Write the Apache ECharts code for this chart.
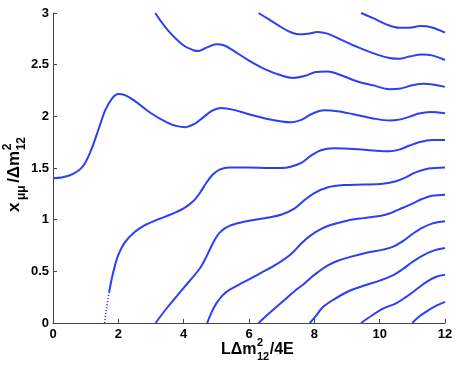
<!DOCTYPE html>
<html>
<head>
	<meta charset="utf-8">
	<script src="https://cdn.jsdelivr.net/npm/echarts@6/dist/echarts.min.js"></script>
	<style>
		html, body { margin: 0; padding: 0; background: #fff; }
		#chart { width: 457px; height: 365px; }
	</style>
</head>
<body>
<div id="chart"></div>
<script>
	// tick values
	var xTicks = [0, 2, 4, 6, 8, 10, 12];
	var yTicks = [0, 0.5, 1, 1.5, 2, 2.5, 3];

	// branch starting at (0, 1.4)
	var branchA = [[0,1.40],[0.3,1.41],[0.6,1.44],[0.9,1.51],[1.15,1.66],[1.4,1.88],[1.6,2.06],[1.8,2.17],[2.0,2.215],[2.2,2.205],[2.5,2.15],[3.0,2.03],[3.5,1.94],[3.8,1.905],[4.05,1.895],[4.35,1.93],[4.6,1.99],[4.85,2.05],[5.15,2.08],[5.5,2.065],[6.0,2.02],[6.5,1.98],[7.0,1.95],[7.3,1.942],[7.6,1.965],[7.9,2.02],[8.3,2.058],[8.7,2.05],[9.2,2.02],[9.8,1.98],[10.3,1.96],[10.6,1.968],[10.9,1.995],[11.2,2.027],[11.55,2.043],[12,2.03]];
	// branches coming down from the top
	var branchB = [[3.13,3.0],[3.5,2.84],[4.0,2.685],[4.3,2.64],[4.45,2.632],[4.7,2.665],[5.0,2.697],[5.25,2.685],[5.5,2.64],[6.0,2.54],[6.5,2.455],[7.0,2.395],[7.35,2.372],[7.7,2.39],[8.05,2.43],[8.4,2.435],[8.8,2.40],[9.3,2.34],[9.8,2.30],[10.3,2.263],[10.6,2.267],[11.0,2.30],[11.35,2.315],[12,2.285]];
	var branchC = [[6.29,3.0],[6.6,2.94],[6.9,2.88],[7.2,2.825],[7.5,2.795],[7.8,2.80],[8.1,2.815],[8.4,2.80],[8.8,2.745],[9.4,2.66],[9.9,2.6],[10.3,2.565],[10.6,2.557],[10.9,2.578],[11.3,2.598],[11.6,2.59],[12,2.545]];
	var branchE = [[9.43,3.0],[9.8,2.95],[10.2,2.89],[10.6,2.857],[10.9,2.858],[11.25,2.873],[11.6,2.86],[12,2.81]];
	// branches rising from zero
	var rise1 = [[1.58,0],[1.64,0.15],[1.72,0.3],[1.8,0.43],[1.9,0.56],[2.0,0.66],[2.2,0.78],[2.5,0.88],[2.8,0.945],[3.2,1.0],[3.6,1.05],[4.0,1.11],[4.3,1.18],[4.5,1.26],[4.7,1.36],[4.9,1.44],[5.1,1.485],[5.4,1.505],[6.0,1.505],[6.6,1.50],[7.0,1.50],[7.3,1.515],[7.6,1.55],[7.9,1.62],[8.2,1.672],[8.6,1.69],[9.2,1.685],[9.8,1.67],[10.3,1.662],[10.6,1.678],[10.9,1.715],[11.2,1.75],[11.6,1.772],[12,1.772]];
	var rise2 = [[3.14,0],[3.5,0.15],[4.0,0.34],[4.5,0.53],[4.7,0.645],[4.9,0.775],[5.1,0.875],[5.4,0.94],[6.0,0.99],[6.6,1.02],[7.0,1.05],[7.4,1.11],[7.7,1.19],[8.0,1.258],[8.4,1.312],[8.9,1.335],[9.5,1.34],[10.1,1.348],[10.5,1.372],[10.8,1.41],[11.1,1.458],[11.5,1.495],[12,1.506]];
	var rise3 = [[4.72,0],[4.85,0.1],[5.0,0.19],[5.2,0.27],[5.4,0.32],[5.8,0.39],[6.4,0.49],[6.9,0.58],[7.3,0.67],[7.6,0.77],[7.9,0.85],[8.2,0.908],[8.5,0.948],[9.0,0.99],[9.5,1.015],[10.0,1.035],[10.3,1.06],[10.6,1.10],[11.0,1.155],[11.3,1.2],[11.6,1.232],[12,1.242]];
	var rise4 = [[6.29,0],[6.6,0.09],[7.04,0.21],[7.4,0.31],[7.65,0.37],[7.9,0.44],[8.1,0.49],[8.4,0.555],[8.7,0.6],[9.1,0.64],[9.6,0.68],[10.1,0.71],[10.4,0.737],[10.7,0.79],[11.0,0.86],[11.3,0.92],[11.6,0.962],[12,0.984]];
	var rise5 = [[7.86,0],[8.05,0.07],[8.25,0.15],[8.56,0.22],[9.0,0.3],[9.5,0.36],[10.0,0.41],[10.4,0.46],[10.7,0.52],[11.0,0.59],[11.3,0.65],[11.65,0.70],[12,0.726]];
	var rise6 = [[9.43,0],[9.75,0.07],[10.1,0.14],[10.5,0.19],[10.8,0.25],[11.1,0.32],[11.45,0.4],[11.75,0.45],[12,0.468]];
	var rise7 = [[11.0,0],[11.2,0.06],[11.45,0.115],[11.75,0.17],[12,0.205]];

	var blue = '#2b3ff6';
	var font = '"Liberation Sans", Helvetica, Arial, sans-serif';

	// measure text so the sub/superscripts can be placed next to the main text
	var ctx = document.createElement('canvas').getContext('2d');
	function textWidth(str, size) {
		ctx.font = 'bold ' + size + 'px ' + font;
		return ctx.measureText(str).width;
	}

	// pieces: {t} in a row, or {sup, sub} stacked at the same x; gap = extra space after
	function buildLabel(pieces, mainSize, smallSize) {
		var out = [];
		var x = 0;
		pieces.forEach(function (p) {
			if (p.t) {
				out.push(textEl(p.t, x, 0, mainSize));
				x += textWidth(p.t, mainSize);
			} else {
				var w = 0;
				if (p.sup) {
					out.push(textEl(p.sup, x + 0.5, -8, smallSize));
					w = Math.max(w, textWidth(p.sup, smallSize));
				}
				if (p.sub) {
					out.push(textEl(p.sub, x + 0.5, 6, smallSize));
					w = Math.max(w, textWidth(p.sub, smallSize));
				}
				x += w + 1;
			}
			x += p.gap || 0;
		});
		return out;
	}
	function textEl(str, x, baseline, size) {
		return {
			type: 'text',
			style: {
				text: str,
				x: x,
				y: baseline - 0.35 * size,
				font: 'bold ' + size + 'px ' + font,
				fill: '#000',
				textVerticalAlign: 'middle'
			}
		};
	}

	var chart = echarts.init(document.getElementById('chart'), null, {renderer: 'canvas'});

	function curve(data, dotted) {
		return {
			type: 'line',
			data: data,
			smooth: 0.35,
			showSymbol: false,
			symbol: 'none',
			silent: true,
			lineStyle: {
				color: blue,
				width: dotted ? 1.6 : 2,
				type: dotted ? [1.2, 1.8] : 'solid'
			}
		};
	}

	var axisStyle = {
		lineStyle: { color: '#444', width: 1 }
	};
	var labelStyle = {
		color: '#000',
		fontSize: 13,
		fontWeight: 'bold',
		fontFamily: font
	};

	option = {
		backgroundColor: '#fff',
		animation: false,
		grid: {
			left: 53,
			top: 13,
			right: 12,
			bottom: 42
		},
		xAxis: {
			type: 'value',
			min: xTicks[0],
			max: xTicks[xTicks.length - 1],
			interval: xTicks[1] - xTicks[0],
			axisLine: axisStyle,
			axisTick: { inside: true, length: 4, lineStyle: { color: '#444' } },
			splitLine: { show: false },
			axisLabel: Object.assign({ margin: 5 }, labelStyle)
		},
		yAxis: {
			type: 'value',
			min: yTicks[0],
			max: yTicks[yTicks.length - 1],
			interval: yTicks[1] - yTicks[0],
			axisLine: Object.assign({ show: true }, axisStyle),
			axisTick: { show: true, inside: true, length: 4, lineStyle: { color: '#444' } },
			splitLine: { show: false },
			axisLabel: Object.assign({ margin: 4 }, labelStyle)
		},
		graphic: [
			{
				type: 'group',
				x: 221,
				y: 355,
				children: buildLabel([{t: 'L\u0394m'}, {sup: '2', sub: '12'}, {t: '/4E'}], 16, 11)
			},
			{
				type: 'group',
				x: 20,
				y: 212,
				rotation: Math.PI / 2,
				children: buildLabel([{t: 'x', gap: 2}, {sub: '\u03bc\u03bc', gap: 2}, {t: '/\u0394m'}, {sup: '2', sub: '12'}], 17, 12)
			}
		],
		series: [
			curve(branchA),
			curve(branchB),
			curve(branchC),
			curve(branchE),
			curve(rise1.slice(0, 3), true),
			curve(rise1.slice(2)),
			curve(rise2),
			curve(rise3),
			curve(rise4),
			curve(rise5),
			curve(rise6),
			curve(rise7)
		]
	};

	chart.setOption(option);
</script>
</body>
</html>
